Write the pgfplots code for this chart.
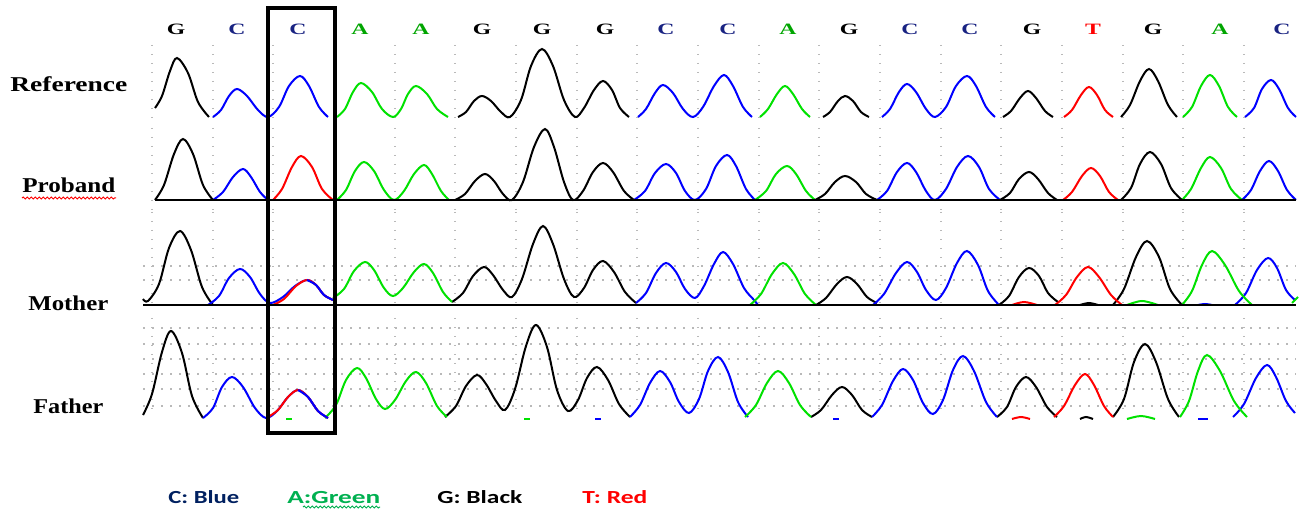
\documentclass[border=0pt]{standalone}
\usepackage{pgfplots}
\pgfplotsset{compat=1.18}
\usepackage{graphicx}
\usepackage{fontspec}
\setmainfont{Liberation Serif}
\newfontfamily\legfont{Carlito}
\usetikzlibrary{decorations.pathmorphing}
\definecolor{tblue}{RGB}{0,0,255}
\definecolor{tgreen}{RGB}{0,225,0}
\definecolor{tred}{RGB}{255,0,0}
\definecolor{lnavy}{RGB}{0,32,96}
\definecolor{lgreen}{RGB}{0,176,80}
\definecolor{cnavy}{RGB}{25,35,130}
\definecolor{cgreen}{RGB}{0,165,0}
\pgfplotsset{tr/.style={smooth, tension=0.55, line width=0.4mm, mark=none}}
\newcommand{\base}[3]{\node[anchor=base, inner sep=0pt, text=#2] at (axis cs:#1,35) {\fontsize{9}{9}\selectfont\bfseries\scalebox{1.5}[1]{#3}};}
\newcommand{\lab}[4]{\node[anchor=base west, inner sep=0pt] at (axis cs:#1,#2) {\fontsize{12}{12}\selectfont\bfseries\resizebox{#3}{\height}{#4}};}
\begin{document}
\begin{tikzpicture}
\begin{axis}[hide axis, scale only axis, width=260mm, height=102.2mm,
  xmin=0, xmax=1300, ymin=0, ymax=511, y dir=reverse, clip=false]
\path (axis cs:0,0) rectangle (axis cs:1300,511);
% faint grid
\pgfplotsinvokeforeach{152,213,273,334,395,455,516,577,637,698,759,819,880,941,1001,1062,1123,1183,1244}{
  \draw[gray!55, line width=0.25mm, dash pattern=on 0.3mm off 1.5mm] (axis cs:#1,45) -- (axis cs:#1,118);
  \draw[gray!55, line width=0.25mm, dash pattern=on 0.3mm off 1.5mm] (axis cs:#1,128) -- (axis cs:#1,215);
  \draw[gray!55, line width=0.25mm, dash pattern=on 0.3mm off 1.5mm] (axis cs:#1,212) -- (axis cs:#1,304);
  \draw[gray!55, line width=0.25mm, dash pattern=on 0.3mm off 1.5mm] (axis cs:#1,318) -- (axis cs:#1,416);
}
\pgfplotsinvokeforeach{266,280}{
  \draw[gray!55, line width=0.25mm, dash pattern=on 0.3mm off 1.5mm] (axis cs:143,#1) -- (axis cs:1296,#1);
}
\pgfplotsinvokeforeach{328,344,359,374,389,406}{
  \draw[gray!55, line width=0.25mm, dash pattern=on 0.3mm off 1.5mm] (axis cs:143,#1) -- (axis cs:1296,#1);
}
% ===== Reference =====
\addplot[tr, black] coordinates {(155,108)(162,96)(170,71)(177,58)(188,73)(198,102)(209,117)};
\addplot[tr, black] coordinates {(458,117)(466,112)(474,101)(482,96)(491,101)(501,112)(510,117)(521,100)(531,66)(542,49)(553,66)(564,100)(575,117)(584,108)(594,90)(603,81)(612,90)(620,108)(629,117)};
\addplot[tr, black] coordinates {(823,117)(830,112)(838,101)(845,96)(853,101)(861,112)(869,117)};
\addplot[tr, black] coordinates {(1003,117)(1011,111)(1020,98)(1028,91)(1036,98)(1045,111)(1053,117)};
\addplot[tr, black] coordinates {(1121,117)(1130,105)(1140,81)(1149,69)(1158,81)(1168,105)(1177,117)};
\addplot[tr, tblue] coordinates {(213,117)(221,110)(229,96)(237,89)(247,96)(258,110)(268,117)(279,107)(289,86)(300,76)(309,86)(319,107)(328,117)};
\addplot[tr, tblue] coordinates {(638,117)(646,109)(655,93)(663,85)(673,93)(683,109)(693,117)(703,107)(714,86)(724,75)(733,86)(743,107)(752,117)};
\addplot[tr, tblue] coordinates {(882,117)(890,109)(899,92)(907,84)(916,92)(926,109)(935,117)(946,107)(956,86)(967,76)(976,86)(986,107)(995,117)};
\addplot[tr, tblue] coordinates {(1245,117)(1254,108)(1262,89)(1271,80)(1279,89)(1288,108)(1296,117)};
\addplot[tr, tgreen] coordinates {(337,117)(345,109)(353,92)(361,83)(372,92)(382,109)(393,117)(401,109)(408,94)(416,86)(427,94)(437,109)(448,117)};
\addplot[tr, tgreen] coordinates {(760,117)(768,109)(777,94)(785,86)(793,94)(802,109)(810,117)};
\addplot[tr, tgreen] coordinates {(1183,117)(1192,107)(1201,86)(1210,75)(1219,86)(1228,107)(1237,117)};
\addplot[tr, tred] coordinates {(1064,117)(1072,110)(1081,95)(1089,87)(1097,95)(1105,110)(1113,117)};
% ===== Proband =====
\addplot[tr, black] coordinates {(155,200)(164,185)(174,154)(183,139)(193,154)(203,185)(213,200)};
\addplot[tr, black] coordinates {(455,200)(465,194)(475,181)(485,174)(494,181)(503,194)(512,200)(523,182)(534,147)(545,129)(554,147)(564,182)(573,200)(583,191)(593,172)(603,163)(613,172)(624,191)(634,200)};
\addplot[tr, black] coordinates {(815,200)(825,194)(835,182)(845,176)(856,182)(866,194)(877,200)};
\addplot[tr, black] coordinates {(1000,200)(1010,193)(1019,179)(1029,172)(1038,179)(1048,193)(1057,200)};
\addplot[tr, black] coordinates {(1121,200)(1131,188)(1140,164)(1150,152)(1161,164)(1171,188)(1182,200)};
\addplot[tr, tblue] coordinates {(213,200)(223,192)(233,177)(243,169)(251,177)(260,192)(268,200)};
\addplot[tr, tblue] coordinates {(634,200)(645,191)(655,173)(666,164)(676,173)(685,191)(695,200)(706,189)(716,166)(727,155)(736,166)(746,189)(755,200)};
\addplot[tr, tblue] coordinates {(877,200)(887,191)(897,172)(907,163)(916,172)(926,191)(935,200)(946,189)(957,167)(968,156)(979,167)(989,189)(1000,200)};
\addplot[tr, tblue] coordinates {(1242,200)(1251,190)(1260,171)(1269,161)(1278,171)(1287,190)(1296,200)};
\addplot[tr, tgreen] coordinates {(337,200)(346,190)(355,171)(364,162)(374,171)(384,190)(394,200)(404,191)(414,174)(424,165)(432,174)(441,191)(449,200)};
\addplot[tr, tgreen] coordinates {(755,200)(766,191)(776,174)(787,166)(796,174)(806,191)(815,200)};
\addplot[tr, tgreen] coordinates {(1182,200)(1191,189)(1201,168)(1210,157)(1221,168)(1231,189)(1242,200)};
\addplot[tr, tred] coordinates {(273,200)(282,189)(292,167)(301,156)(312,167)(322,189)(333,200)};
\addplot[tr, tred] coordinates {(1063,200)(1072,192)(1082,176)(1091,168)(1100,176)(1109,192)(1118,200)};
\addplot[black, line width=0.45mm, mark=none] coordinates {(155,200) (1296,200)};
% ===== Mother =====
\addplot[tr, black] coordinates {(143,299)(148,301)(159,284)(169,248)(180,231)(191,250)(202,287)(213,305)};
\addplot[tr, black] coordinates {(452,302)(463,293)(473,276)(484,267)(493,275)(503,290)(512,297)(522,279)(533,244)(543,226)(553,244)(564,279)(574,297)(584,288)(593,270)(603,261)(614,272)(625,292)(636,303)};
\addplot[tr, black] coordinates {(816,305)(826,298)(837,284)(847,277)(857,284)(867,297)(877,303)};
\addplot[tr, black] coordinates {(999,305)(1009,296)(1019,277)(1029,268)(1039,276)(1048,293)(1058,302)};
\addplot[tr, black] coordinates {(1113,305)(1124,289)(1136,257)(1147,241)(1159,257)(1170,289)(1182,305)};
\addplot[tr, black] coordinates {(1080,305)(1089,303)(1098,305)};
\addplot[tr, tblue] coordinates {(208,305)(219,296)(229,278)(240,269)(250,277)(260,294)(270,303)(283,297)(295,286)(307,280)(316,285)(324,295)(333,300)};
\addplot[tr, tblue] coordinates {(636,303)(646,293)(656,273)(666,263)(676,272)(685,289)(695,298)(704,286)(714,264)(723,252)(733,264)(744,288)(754,300)(758,305)};
\addplot[tr, tblue] coordinates {(873,305)(884,294)(896,273)(907,262)(917,272)(926,290)(936,300)(946,288)(957,263)(967,251)(978,265)(988,291)(999,305)};
\addplot[tr, tblue] coordinates {(1235,305)(1246,293)(1257,270)(1268,258)(1277,268)(1286,290)(1295,300)};
\addplot[tr, tblue] coordinates {(1198,305)(1205,304)(1212,305)};
\addplot[tr, tgreen] coordinates {(333,298)(344,289)(354,271)(365,262)(374,270)(384,288)(393,296)(403,288)(414,272)(424,264)(433,273)(443,292)(452,302)};
\addplot[tr, tgreen] coordinates {(750,305)(761,294)(772,274)(783,263)(794,274)(805,294)(816,305)};
\addplot[tr, tgreen] coordinates {(1182,305)(1192,291)(1202,265)(1212,251)(1225,265)(1239,291)(1252,305)};
\addplot[tr, tgreen] coordinates {(1127,305)(1142,301)(1158,305)};
\addplot[tr, tgreen] coordinates {(1292,303)(1298,297)};
\addplot[tr, tred] coordinates {(273,305)(284,299)(296,286)(307,280)(316,285)(324,295)(333,300)};
\addplot[tr, tred] coordinates {(1055,305)(1066,295)(1077,277)(1088,267)(1099,277)(1111,295)(1122,305)};
\addplot[tr, tred] coordinates {(1012,305)(1024,302)(1037,305)};
\addplot[tr, tblue] coordinates {(307,280)(316,285)(324,295)(333,300)};
\addplot[black, line width=0.45mm, mark=none] coordinates {(143,305) (1296,305)};
% ===== Father =====
\addplot[tr, black] coordinates {(143,415)(152,394)(162,352)(171,331)(182,353)(192,396)(203,418)};
\addplot[tr, black] coordinates {(445,417)(456,406)(466,386)(477,375)(486,384)(496,401)(505,410)(515,389)(526,346)(536,325)(547,347)(557,390)(568,411)(578,400)(587,378)(597,367)(608,380)(619,404)(630,417)};
\addplot[tr, black] coordinates {(811,417)(821,410)(832,395)(842,387)(852,395)(862,410)(872,417)};
\addplot[tr, black] coordinates {(997,417)(1007,407)(1016,387)(1026,377)(1036,387)(1047,407)(1057,417)};
\addplot[tr, black] coordinates {(1113,417)(1124,399)(1134,362)(1145,344)(1156,362)(1168,399)(1179,417)};
\addplot[tr, black] coordinates {(1080,419)(1086,417)(1093,419)};
\addplot[tr, tblue] coordinates {(203,418)(213,408)(222,387)(232,377)(243,387)(255,408)(266,418)(277,411)(288,397)(298,390)(308,397)(318,411)(328,418)};
\addplot[tr, tblue] coordinates {(630,417)(640,405)(650,383)(660,371)(670,382)(679,402)(689,413)(699,399)(708,371)(718,357)(728,372)(738,402)(748,417)};
\addplot[tr, tblue] coordinates {(872,417)(882,405)(893,381)(903,369)(913,380)(923,403)(933,414)(943,400)(953,370)(963,356)(974,371)(986,402)(997,417)};
\addplot[tr, tblue] coordinates {(1233,417)(1244,404)(1256,378)(1267,365)(1276,377)(1286,401)(1295,413)};
\addplot[tr, tblue] coordinates {(1198,419) (1208,419)};
\addplot[tr, tblue] coordinates {(595,419) (601,419)};
\addplot[tr, tblue] coordinates {(833,419) (839,419)};
\addplot[tr, tgreen] coordinates {(325,418)(336,405)(346,380)(357,368)(366,378)(376,399)(385,409)(395,400)(406,381)(416,372)(426,383)(437,406)(447,417)};
\addplot[tr, tgreen] coordinates {(745,417)(756,405)(767,383)(778,371)(789,383)(800,405)(811,417)};
\addplot[tr, tgreen] coordinates {(1180,417)(1189,401)(1198,371)(1207,355)(1220,371)(1234,401)(1247,417)};
\addplot[tr, tgreen] coordinates {(1127,419)(1141,416)(1155,419)};
\addplot[tr, tgreen] coordinates {(524,419) (530,419)};
\addplot[tr, tgreen] coordinates {(286,419) (292,419)};
\addplot[tr, tred] coordinates {(268,417)(278,410)(288,397)(298,390)(308,397)(318,411)(328,418)};
\addplot[tr, tred] coordinates {(1054,417)(1064,406)(1075,385)(1085,374)(1094,385)(1104,406)(1113,417)};
\addplot[tr, tred] coordinates {(1012,419)(1021,417)(1030,419)};
\addplot[tr, tblue] coordinates {(298,390)(308,397)(318,411)(328,418)};
% ===== highlight box =====
\draw[black, line width=0.7mm] (axis cs:268,8) rectangle (axis cs:335,433);
% ===== base calls =====
\base{176}{black}{G}
\base{237}{cnavy}{C}
\base{298}{cnavy}{C}
\base{360}{cgreen}{A}
\base{421}{cgreen}{A}
\base{482}{black}{G}
\base{542}{black}{G}
\base{605}{black}{G}
\base{666}{cnavy}{C}
\base{728}{cnavy}{C}
\base{788}{cgreen}{A}
\base{849}{black}{G}
\base{910}{cnavy}{C}
\base{970}{cnavy}{C}
\base{1032}{black}{G}
\base{1093}{tred}{T}
\base{1153}{black}{G}
\base{1220}{cgreen}{A}
\base{1282}{cnavy}{C}
% ===== track labels =====
\lab{10}{92}{23.4mm}{Reference}
\lab{22}{193}{18.6mm}{Proband}
\lab{28}{311}{16mm}{Mother}
\lab{33}{413}{14mm}{Father}
\draw[tred, line width=0.2mm, decorate, decoration={snake, amplitude=0.2mm, segment length=0.8mm}] (axis cs:22,198) -- (axis cs:116,198);
% ===== legend =====
\node[anchor=base west, inner sep=0pt, text=lnavy] at (axis cs:168,503) {\legfont\fontsize{10.5}{10.5}\selectfont\bfseries\resizebox{14.2mm}{\height}{C: Blue}};
\node[anchor=base west, inner sep=0pt, text=lgreen] at (axis cs:287,503) {\legfont\fontsize{10.5}{10.5}\selectfont\bfseries\resizebox{18.6mm}{\height}{A:Green}};
\node[anchor=base west, inner sep=0pt, text=black] at (axis cs:437,503) {\legfont\fontsize{10.5}{10.5}\selectfont\bfseries\resizebox{17mm}{\height}{G: Black}};
\node[anchor=base west, inner sep=0pt, text=tred] at (axis cs:582,503) {\legfont\fontsize{10.5}{10.5}\selectfont\bfseries\resizebox{13mm}{\height}{T: Red}};
\draw[lgreen, line width=0.2mm, decorate, decoration={snake, amplitude=0.2mm, segment length=0.8mm}] (axis cs:303,507) -- (axis cs:380,507);
\end{axis}
\end{tikzpicture}
\end{document}
